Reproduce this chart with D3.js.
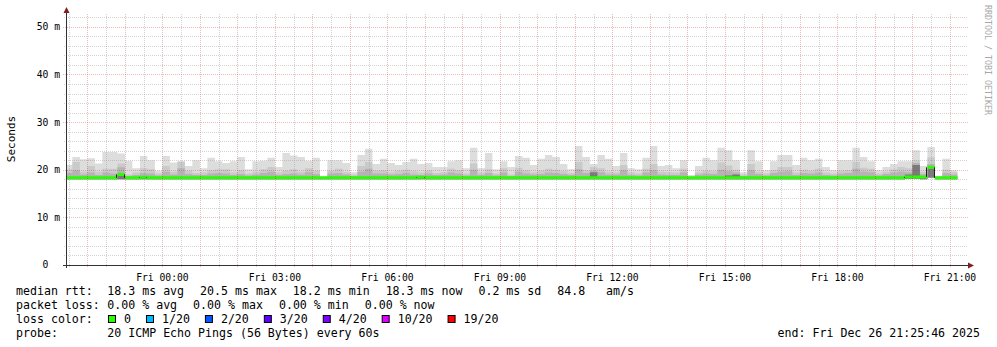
<!DOCTYPE html>
<meta charset="utf-8">
<style>
body { margin: 0; background: #fff; }
svg text { font-family: "DejaVu Sans Mono", monospace; fill: #000; white-space: pre; }
</style>
<svg width="997" height="347"></svg>
<script src="https://d3js.org/d3.v7.min.js"></script>
<script>

// 12 minute steps, first one starts before the left edge
var stepStart = new Date(2025, 11, 25, 21, 24, 0),
    stepMinutes = 12,
    graphStart = new Date(2025, 11, 25, 21, 25, 46),
    graphEnd = new Date(2025, 11, 26, 21, 25, 46);

// smoke: top of each shade band (ms), per step
var smokeMax = [
  21.0, 22.7, 22.2, 22.4, 21.3, 23.7, 23.7, 23.4, 21.9, 20.3,
  22.9, 22.0, 19.8, 22.9, 21.5, 21.8, 20.8, 22.0, 20.3, 22.5,
  21.8, 21.4, 21.8, 22.7, 20.1, 21.8, 21.9, 22.5, 20.6, 23.5,
  23.0, 22.7, 21.9, 22.5, 18.6, 22.0, 22.0, 21.4, 19.5, 23.1,
  24.4, 21.2, 22.3, 21.4, 21.0, 21.6, 22.3, 21.2, 21.4, 20.6,
  20.6, 21.8, 22.0, 20.3, 24.6, 20.3, 23.5, 20.1, 21.8, 20.6,
  22.9, 22.5, 21.0, 22.3, 23.1, 22.7, 21.2, 20.1, 25.0, 22.7,
  21.2, 23.1, 22.3, 20.8, 23.5, 20.3, 20.1, 22.5, 25.0, 20.8,
  21.0, 20.3, 22.0, 18.9, 20.8, 22.5, 22.0, 24.6, 24.1, 22.0,
  19.5, 24.1, 21.8, 19.9, 21.8, 23.1, 23.1, 21.0, 22.5, 22.0,
  22.3, 20.6, 19.9, 22.0, 22.0, 24.6, 22.7, 21.8, 19.9, 20.6,
  21.2, 21.8, 21.8, 24.1, 20.8, 24.8, 18.7, 22.3, 19.9];

var smokeHigh = [
  20.1, 21.6, 19.6, 20.8, 19.6, 20.2, 20.2, 21.3, 19.0, 19.4,
  20.3, 20.1, 19.2, 20.8, 19.6, 21.7, 19.8, 19.3, 19.4, 19.9,
  20.1, 20.1, 19.4, 19.9, 19.2, 19.6, 20.1, 20.6, 19.4, 19.8,
  20.1, 19.6, 20.3, 19.8, 18.5, 19.8, 20.2, 19.5, 19.0, 20.8,
  21.6, 19.8, 19.9, 19.5, 19.8, 20.0, 19.7, 19.4, 19.8, 19.3,
  19.5, 20.2, 19.9, 19.2, 21.3, 19.4, 20.1, 19.2, 20.3, 19.0,
  20.4, 19.9, 19.5, 19.8, 20.2, 20.0, 19.7, 19.3, 21.6, 19.9,
  20.6, 20.3, 19.6, 19.5, 21.0, 19.4, 19.2, 20.2, 21.2, 19.6,
  19.5, 19.4, 20.2, 18.6, 19.5, 19.8, 19.7, 21.5, 20.9, 20.0,
  19.0, 21.2, 19.6, 19.2, 19.9, 20.6, 20.6, 19.4, 20.0, 19.8,
  20.2, 19.4, 19.2, 19.8, 19.9, 21.6, 20.4, 20.2, 19.2, 19.6,
  20.1, 20.6, 20.3, 22.0, 19.6, 22.6, 18.6, 20.0, 19.5];

var smokeMid = [
  19.3, 19.9, 19.0, 19.4, 18.9, 19.4, 19.2, 20.5, 18.7, 18.9,
  19.3, 19.2, 18.8, 19.6, 19.0, 20.3, 19.1, 18.9, 18.9, 19.2,
  19.3, 19.2, 18.9, 19.1, 18.8, 19.0, 19.3, 19.6, 18.9, 19.1,
  19.2, 19.0, 19.5, 19.1, 18.4, 19.2, 19.3, 19.0, 18.7, 19.6,
  20.2, 19.2, 19.2, 19.0, 19.1, 19.3, 19.0, 18.9, 19.2, 18.9,
  19.0, 19.4, 19.2, 18.8, 20.0, 18.9, 19.3, 18.8, 19.4, 18.7,
  19.6, 19.2, 19.0, 19.1, 19.4, 19.3, 19.1, 18.9, 20.1, 19.3,
  19.8, 19.5, 19.0, 19.0, 19.9, 18.9, 18.8, 19.4, 19.9, 19.0,
  18.9, 18.9, 19.4, 18.4, 19.0, 19.2, 19.1, 20.0, 19.7, 19.4,
  18.7, 19.9, 19.1, 18.8, 19.3, 19.6, 19.7, 18.9, 19.3, 19.2,
  19.4, 18.9, 18.8, 19.2, 19.3, 20.2, 19.6, 19.5, 18.8, 19.1,
  19.4, 19.6, 19.5, 21.4, 19.1, 21.2, 18.5, 19.3, 19.0];

var smokeCore = [
  18.3, 18.3, 18.3, 18.3, 18.3, 18.3, 18.3, 18.9, 18.3, 18.3,
  18.3, 18.3, 18.3, 18.3, 18.3, 18.3, 18.3, 18.3, 18.3, 18.3,
  18.3, 18.3, 18.3, 18.3, 18.3, 18.3, 18.3, 18.3, 18.3, 18.3,
  18.3, 18.3, 18.3, 18.3, 18.3, 18.3, 18.3, 18.3, 18.3, 18.3,
  18.3, 18.3, 18.3, 18.3, 18.3, 18.3, 18.3, 18.3, 18.3, 18.3,
  18.3, 18.3, 18.3, 18.3, 18.3, 18.3, 18.3, 18.3, 18.3, 18.3,
  18.3, 18.3, 18.3, 18.3, 18.3, 18.3, 18.3, 18.3, 18.3, 18.3,
  19.5, 18.3, 18.3, 18.3, 18.3, 18.3, 18.3, 18.3, 18.3, 18.3,
  18.3, 18.3, 18.3, 18.3, 18.3, 18.3, 18.3, 18.3, 18.8, 19.0,
  18.3, 18.3, 18.3, 18.3, 18.3, 18.3, 18.3, 18.3, 18.3, 18.3,
  18.3, 18.3, 18.3, 18.3, 18.3, 18.3, 18.3, 18.3, 18.3, 18.3,
  18.3, 18.3, 19.0, 21.0, 18.3, 18.3, 18.3, 18.3, 18.3];

var smokeMin = [
  18.0, 18.0, 18.0, 18.0, 18.0, 18.0, 18.0, 18.0, 18.0, 18.0,
  18.0, 18.0, 18.0, 18.0, 18.0, 18.0, 18.0, 18.0, 18.0, 18.0,
  18.0, 18.0, 18.0, 18.0, 18.0, 18.0, 18.0, 18.0, 18.0, 18.0,
  18.0, 18.0, 18.0, 18.0, 18.0, 18.0, 18.0, 18.0, 18.0, 18.0,
  18.0, 18.0, 18.0, 18.0, 18.0, 18.0, 18.0, 18.0, 18.0, 18.0,
  18.0, 18.0, 18.0, 18.0, 18.0, 18.0, 18.0, 18.0, 18.0, 18.0,
  18.0, 18.0, 18.0, 18.0, 18.0, 18.0, 18.0, 18.0, 18.0, 18.0,
  18.0, 18.0, 18.0, 18.0, 18.0, 18.0, 18.0, 18.0, 18.0, 18.0,
  18.0, 18.0, 18.0, 18.0, 18.0, 18.0, 18.0, 18.0, 18.0, 18.0,
  18.0, 18.0, 18.0, 18.0, 18.0, 18.0, 18.0, 18.0, 18.0, 18.0,
  18.0, 18.0, 18.0, 18.0, 18.0, 18.0, 18.0, 18.0, 18.0, 18.0,
  18.0, 18.0, 18.1, 18.1, 18.0, 20.3, 18.0, 18.0, 18.0];

var median = [
  18.3, 18.3, 18.3, 18.3, 18.3, 18.3, 18.3, 19.0, 18.3, 18.3,
  18.4, 18.3, 18.3, 18.3, 18.3, 18.3, 18.3, 18.3, 18.3, 18.3,
  18.3, 18.3, 18.3, 18.3, 18.3, 18.3, 18.3, 18.3, 18.3, 18.3,
  18.3, 18.3, 18.3, 18.3, 18.3, 18.3, 18.3, 18.3, 18.3, 18.3,
  18.3, 18.3, 18.3, 18.3, 18.3, 18.3, 18.3, 18.4, 18.3, 18.3,
  18.3, 18.3, 18.3, 18.3, 18.3, 18.3, 18.3, 18.3, 18.3, 18.3,
  18.3, 18.3, 18.3, 18.3, 18.3, 18.3, 18.3, 18.3, 18.3, 18.3,
  18.3, 18.3, 18.3, 18.3, 18.3, 18.3, 18.3, 18.3, 18.3, 18.3,
  18.3, 18.3, 18.3, 18.3, 18.3, 18.3, 18.3, 18.3, 18.3, 18.3,
  18.3, 18.3, 18.3, 18.3, 18.3, 18.3, 18.3, 18.3, 18.3, 18.3,
  18.3, 18.3, 18.3, 18.3, 18.3, 18.3, 18.3, 18.3, 18.3, 18.3,
  18.3, 18.3, 18.5, 18.5, 18.5, 20.5, 18.3, 18.3, 18.3];

// "0" has a blank unit, so it lines up with the digits of the others
var yTicks = [0, 10, 20, 30, 40, 50],
    yTickLabels = ["0  ", "10 m", "20 m", "30 m", "40 m", "50 m"];

var medianStats = ["18.3 ms avg", "20.5 ms max", "18.2 ms min", "18.3 ms now", "0.2 ms sd", "84.8   am/s"],
    lossStats = ["0.00 % avg", "0.00 % max", "0.00 % min", "0.00 % now"],
    lossLabels = ["0", "1/20", "2/20", "3/20", "4/20", "10/20", "19/20"],
    lossColors = ["#26ff00", "#00b8ff", "#0059ff", "#5e00ff", "#7e00ff", "#dd00ff", "#ff0000"],
    probeText = "20 ICMP Echo Pings (56 Bytes) every 60s",
    endText = "end: Fri Dec 26 21:25:46 2025";

var svg = d3.select("svg"),
    plotLeft = 66, plotRight = 966, plotTop = 14, plotBottom = 265,
    minorGrid = "rgba(150,150,150,0.42)",
    majorGrid = "rgba(200,40,40,0.32)";

var x = d3.scaleTime().domain([graphStart, graphEnd]).range([plotLeft, plotRight]);
var y = d3.scaleLinear().domain([0, 52.7]).range([plotBottom, plotTop]);

svg.append("clipPath").attr("id", "plot")
  .append("rect").attr("x", plotLeft).attr("y", plotTop)
    .attr("width", plotRight - plotLeft).attr("height", plotBottom - plotTop);

var n = smokeMax.length;
var pts = d3.range(n + 1).map(function(i) {
  return { t: d3.timeMinute.offset(stepStart, i * stepMinutes), k: Math.min(i, n - 1) };
});

var g = svg.append("g").attr("clip-path", "url(#plot)");

function band(lo, hi, color) {
  g.append("path").datum(pts)
      .attr("fill", color)
      .attr("d", d3.area().curve(d3.curveStepAfter)
        .x(function(d) { return x(d.t); })
        .y0(function(d) { return lo(d.k); })
        .y1(function(d) { return hi(d.k); }));
}

band(function(k) { return y(smokeMin[k]); }, function(k) { return y(smokeMax[k]); }, "#dddddd");
band(function(k) { return y(smokeMin[k]); }, function(k) { return y(smokeHigh[k]); }, "#cacaca");
band(function(k) { return y(smokeMin[k]); }, function(k) { return y(smokeMid[k]); }, "#b4b4b4");
band(function(k) { return y(smokeMin[k]); }, function(k) { return y(smokeCore[k]); }, "#7a7a7a");

// median: green band + dark jumps
band(function(k) { return y(median[k]) + 1.5; }, function(k) { return y(median[k]) - 1.5; }, lossColors[0]);

d3.range(1, n).forEach(function(k) {
  if (median[k] === median[k - 1]) return;
  var xx = Math.round(x(pts[k].t)) - 0.5;
  g.append("line")
      .attr("x1", xx).attr("x2", xx)
      .attr("y1", y(median[k - 1])).attr("y2", y(median[k]))
      .attr("stroke", "#202020").attr("stroke-width", 1);
});

// grid
var grid = svg.append("g").attr("stroke-dasharray", "1,1").attr("stroke-width", 1);

d3.range(2, 53, 2).forEach(function(v) {
  var major = v % 10 === 0, yy = Math.round(y(v)) + 0.5;
  grid.append("line")
      .attr("x1", major ? plotLeft - 3 : plotLeft - 2).attr("x2", plotRight + 2)
      .attr("y1", yy).attr("y2", yy)
      .attr("stroke", major ? majorGrid : minorGrid);
});

d3.timeMinute.every(30).range(graphStart, graphEnd).forEach(function(t) {
  var major = t.getMinutes() === 0, xx = Math.round(x(t)) + 0.5;
  grid.append("line")
      .attr("x1", xx).attr("x2", xx)
      .attr("y1", plotTop).attr("y2", plotBottom + (major ? 3 : 2))
      .attr("stroke", major ? majorGrid : minorGrid);
});

// axes
svg.append("line").attr("x1", plotLeft + 0.5).attr("x2", plotLeft + 0.5)
    .attr("y1", plotBottom + 3).attr("y2", 12).attr("stroke", "#333");
svg.append("line").attr("x1", plotLeft - 3).attr("x2", plotRight + 3)
    .attr("y1", plotBottom + 0.5).attr("y2", plotBottom + 0.5).attr("stroke", "#333");
svg.append("path").attr("fill", "#7f1f1f")
    .attr("d", "M" + (plotLeft + 0.5) + ",7L" + (plotLeft + 3.5) + ",13L" + (plotLeft - 2.5) + ",13Z");
svg.append("path").attr("fill", "#7f1f1f")
    .attr("d", "M" + (plotRight + 8) + "," + (plotBottom + 0.5) + "L" + (plotRight + 2) + "," + (plotBottom - 2.5) +
      "L" + (plotRight + 2) + "," + (plotBottom + 3.5) + "Z");

svg.selectAll(".ylab").data(yTicks).enter().append("text")
    .attr("x", 60).attr("y", function(d) { return y(d); })
    .attr("dy", "0.36em").attr("text-anchor", "end")
    .style("font-size", "9.7px")
    .text(function(d, i) { return yTickLabels[i]; });

var fmt = d3.timeFormat("%a %H:%M");
svg.selectAll(".xlab").data(d3.timeHour.every(3).range(graphStart, graphEnd)).enter().append("text")
    .attr("x", function(d) { return x(d); }).attr("y", 281)
    .attr("text-anchor", "middle")
    .style("font-size", "9.7px")
    .text(function(d) { return fmt(d); });

svg.append("text")
    .attr("transform", "translate(14.5,139) rotate(-90)")
    .attr("text-anchor", "middle")
    .style("font-size", "11px")
    .text("Seconds");

svg.append("text")
    .attr("transform", "translate(985,5) rotate(90)")
    .style("font-size", "8.3px").style("fill", "#a8a8a8")
    .text("RRDTOOL / TOBI OETIKER");

// legend
function legendLine(label, items, baseline) {
  svg.append("text").attr("x", 16).attr("y", baseline).style("font-size", "11.6px").text(label);
  var xx = 107.3;
  items.forEach(function(s) {
    var t = svg.append("text").attr("x", xx).attr("y", baseline)
        .style("font-size", "11.6px").text(s);
    xx += t.node().getComputedTextLength() + 16;
  });
}

legendLine("median rtt:", medianStats, 295);
legendLine("packet loss:", lossStats, 309);

svg.append("text").attr("x", 16).attr("y", 323).style("font-size", "11.6px").text("loss color:");
var bx = 108;
lossLabels.forEach(function(l, i) {
  svg.append("rect").attr("x", bx + 0.5).attr("y", 315.5).attr("width", 7).attr("height", 7)
      .attr("fill", lossColors[i]).attr("stroke", "#000");
  var t = svg.append("text").attr("x", bx + 16).attr("y", 323).style("font-size", "11.6px").text(l);
  bx += 16 + t.node().getComputedTextLength() + 15;
});

svg.append("text").attr("x", 16).attr("y", 337).style("font-size", "11.6px").text("probe:");
svg.append("text").attr("x", 107.3).attr("y", 337).style("font-size", "11.6px").text(probeText);
svg.append("text").attr("x", 980).attr("y", 337).attr("text-anchor", "end").style("font-size", "11.6px").text(endText);

</script>
